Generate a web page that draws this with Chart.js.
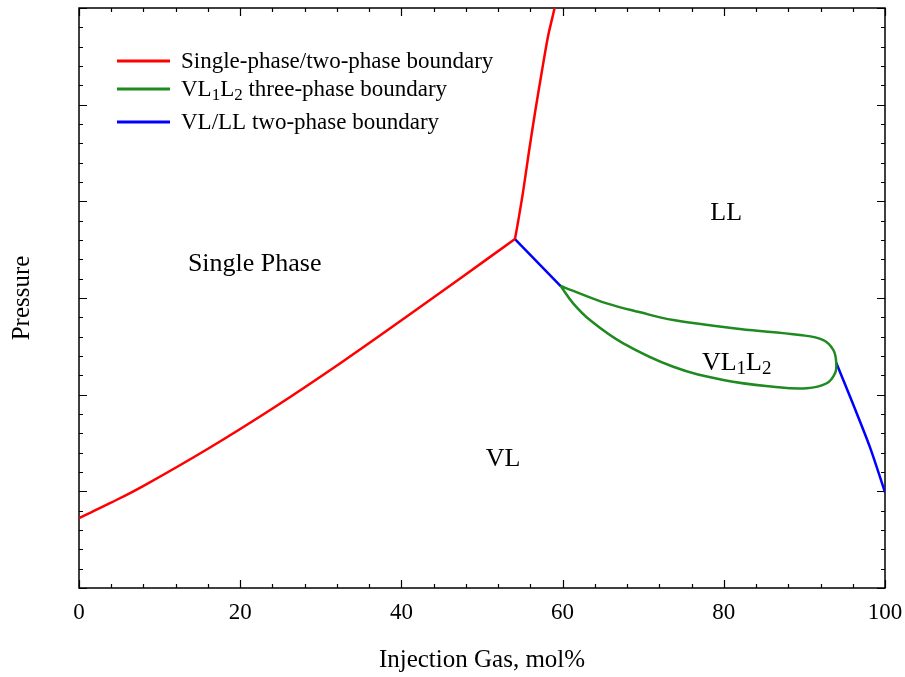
<!DOCTYPE html>
<html>
<head>
<meta charset="utf-8">
<script src="https://cdn.jsdelivr.net/npm/chart.js@4/dist/chart.umd.min.js"></script>
<style>
  html, body { margin: 0; padding: 0; background: #fff; }
  #wrap { width: 905px; height: 677px; }
</style>
</head>
<body>
<div id="wrap"><canvas id="phase" width="905" height="677"></canvas></div>
<script>
// Injection gas (mol%) tick labels along the bottom axis
const xTickLabels = [0, 20, 40, 60, 80, 100];

// Single-phase / two-phase boundary: bubble-point branch up to the three-phase junction
const bubbleX = [0, 3.9, 7.9, 16.0, 24.3, 32.6, 40.8, 47.5, 54.09];
const bubbleY = [0.724, 0.88, 1.052, 1.441, 1.873, 2.336, 2.816, 3.215, 3.61];
// ...and the steep liquid-liquid branch rising from the junction
const steepX = [54.09, 54.5, 55.1, 55.8, 56.6, 57.4, 58.2, 59.0, 59.2];
const steepY = [3.61, 3.80, 4.10, 4.50, 4.93, 5.33, 5.71, 6.0, 6.12];

// VL1L2 three-phase envelope: upper branch out to the tip, lower branch back
const threePhaseX = [59.76, 61.33, 65.47, 69.5, 73.73, 82.01, 89.45, 92.35, 93.59, 93.95, 93.8, 92.77, 90.28, 86.14, 79.94, 73.73, 67.53, 63.4, 61.31, 59.76];
const threePhaseY = [3.124, 3.073, 2.945, 2.855, 2.772, 2.679, 2.617, 2.565, 2.462, 2.33, 2.221, 2.118, 2.066, 2.082, 2.152, 2.289, 2.531, 2.772, 2.945, 3.124];

// VL/LL two-phase boundary: short segment left of the envelope, and the tail to 100%
const vlllLeftX = [54.09, 59.76];
const vlllLeftY = [3.61, 3.124];
const vlllRightX = [93.95, 96.07, 98.14, 100];
const vlllRightY = [2.33, 1.895, 1.455, 0.99];

// Phase-region labels
const regionLabels = [
  { text: 'Single Phase', x: 21.8, y: 3.36 },
  { text: 'LL', x: 80.3, y: 3.89 },
  { text: 'VL', x: 52.6, y: 1.345 },
  { text: 'VL\u2081L\u2082', x: 81.6, y: 2.34 }
];

const RED = '#ff0000';
const GREEN = '#1f8a1f';
const BLUE = '#0000ff';
const SERIF = '"Liberation Serif", "Times New Roman", serif';

const pts = (xs, ys) => xs.map((x, i) => ({ x, y: ys[i] }));

// Text with unicode subscript digits drawn as lowered, smaller glyphs
const SUBS = '\u2080\u2081\u2082\u2083\u2084\u2085\u2086\u2087\u2088\u2089';
function runsOf(text) {
  const runs = [];
  for (const ch of text) {
    const k = SUBS.indexOf(ch);
    const sub = k >= 0;
    const c = sub ? String(k) : ch;
    if (runs.length && runs[runs.length - 1].sub === sub) runs[runs.length - 1].s += c;
    else runs.push({ s: c, sub });
  }
  return runs;
}
function drawRich(ctx, text, x, y, size, align) {
  const runs = runsOf(text);
  const subSize = Math.round(size * 0.72);
  let total = 0;
  runs.forEach(r => {
    ctx.font = (r.sub ? subSize : size) + 'px ' + SERIF;
    r.w = ctx.measureText(r.s).width;
    total += r.w;
  });
  let cx = align === 'center' ? x - total / 2 : x;
  ctx.textAlign = 'left';
  ctx.textBaseline = 'alphabetic';
  runs.forEach(r => {
    ctx.font = (r.sub ? subSize : size) + 'px ' + SERIF;
    ctx.fillText(r.s, cx, r.sub ? y + size * 0.18 : y);
    cx += r.w;
  });
}

// Box frame with inward minor/major ticks on all four sides
const frameTicks = {
  id: 'frameTicks',
  beforeDatasetsDraw(chart) {
    const { ctx, chartArea: a, scales: { x, y } } = chart;
    ctx.save();
    ctx.strokeStyle = '#000';
    ctx.lineWidth = 1.5;
    ctx.strokeRect(a.left, a.top, a.right - a.left, a.bottom - a.top);
    ctx.lineWidth = 1.2;
    ctx.beginPath();
    for (let i = 0; i <= 25; i++) {
      const v = i * 4;
      const len = v % 20 === 0 ? 8 : 4;
      const px = Math.round(x.getPixelForValue(v)) + 0.5;
      ctx.moveTo(px, a.bottom); ctx.lineTo(px, a.bottom - len);
      ctx.moveTo(px, a.top); ctx.lineTo(px, a.top + len);
    }
    for (let i = 0; i <= 30; i++) {
      const v = i * 0.2;
      const len = i % 5 === 0 ? 8 : 4;
      const py = Math.round(y.getPixelForValue(v)) + 0.5;
      ctx.moveTo(a.left, py); ctx.lineTo(a.left + len, py);
      ctx.moveTo(a.right, py); ctx.lineTo(a.right - len, py);
    }
    ctx.stroke();
    ctx.restore();
  }
};

// Legend and region labels inside the plot box
const overlay = {
  id: 'overlay',
  afterDatasetsDraw(chart) {
    const { ctx, chartArea: a, scales: { x, y } } = chart;
    ctx.save();
    ctx.fillStyle = '#000';
    regionLabels.forEach(l => {
      drawRich(ctx, l.text, x.getPixelForValue(l.x), y.getPixelForValue(l.y) + 8, 26, 'center');
    });

    const seen = [];
    chart.data.datasets.forEach(ds => {
      if (!seen.find(s => s.label === ds.label)) seen.push(ds);
    });
    const rowOffsets = [53, 81, 114];
    const lineX0 = a.left + 38, lineX1 = a.left + 91, textX = a.left + 102;
    seen.forEach((ds, i) => {
      const cy = a.top + rowOffsets[i];
      ctx.strokeStyle = ds.borderColor;
      ctx.lineWidth = 3;
      ctx.beginPath();
      ctx.moveTo(lineX0, cy); ctx.lineTo(lineX1, cy);
      ctx.stroke();
      ctx.fillStyle = '#000';
      drawRich(ctx, ds.label, textX, cy + 7, 23, 'left');
    });
    ctx.restore();
  }
};

const lineDs = (label, data, color, tension) => ({
  label, data, borderColor: color, backgroundColor: color,
  borderWidth: 2.5, showLine: true, pointRadius: 0, tension, clip: 0, fill: false
});

const BOUNDARY_1 = 'Single-phase/two-phase boundary';
const BOUNDARY_3 = 'VL/LL two-phase boundary';

new Chart(document.getElementById('phase'), {
  type: 'scatter',
  data: {
    datasets: [
      lineDs(BOUNDARY_1, pts(bubbleX, bubbleY), RED, 0.4),
      lineDs(BOUNDARY_1, pts(steepX, steepY), RED, 0.3),
      lineDs('VL\u2081L\u2082 three-phase boundary', pts(threePhaseX, threePhaseY), GREEN, 0.4),
      lineDs(BOUNDARY_3, pts(vlllLeftX, vlllLeftY), BLUE, 0),
      lineDs(BOUNDARY_3, pts(vlllRightX, vlllRightY), BLUE, 0.3)
    ]
  },
  options: {
    responsive: false,
    animation: false,
    devicePixelRatio: 1,
    layout: { padding: { top: 8, right: 20, left: 0, bottom: 0 } },
    plugins: { legend: { display: false }, tooltip: { enabled: false } },
    scales: {
      x: {
        type: 'linear', min: 0, max: 100,
        afterBuildTicks: s => { s.ticks = xTickLabels.map(v => ({ value: v })); },
        grid: { display: false, drawTicks: false },
        border: { display: false },
        ticks: { color: '#000', font: { family: SERIF, size: 23 }, padding: 11, maxRotation: 0 },
        title: { display: true, text: 'Injection Gas, mol%', color: '#000', font: { family: SERIF, size: 25 }, padding: { top: 0, bottom: 2 } },
        afterFit: s => { s.height = 89; s.paddingLeft = 0; s.paddingRight = 0; }
      },
      y: {
        type: 'linear', min: 0, max: 6,
        grid: { display: false, drawTicks: false },
        border: { display: false },
        ticks: { display: false },
        title: { display: true, text: 'Pressure', color: '#000', font: { family: SERIF, size: 25 }, padding: { top: 7, bottom: 0 } },
        afterFit: s => { s.width = 79; }
      }
    }
  },
  plugins: [frameTicks, overlay]
});
</script>
</body>
</html>
